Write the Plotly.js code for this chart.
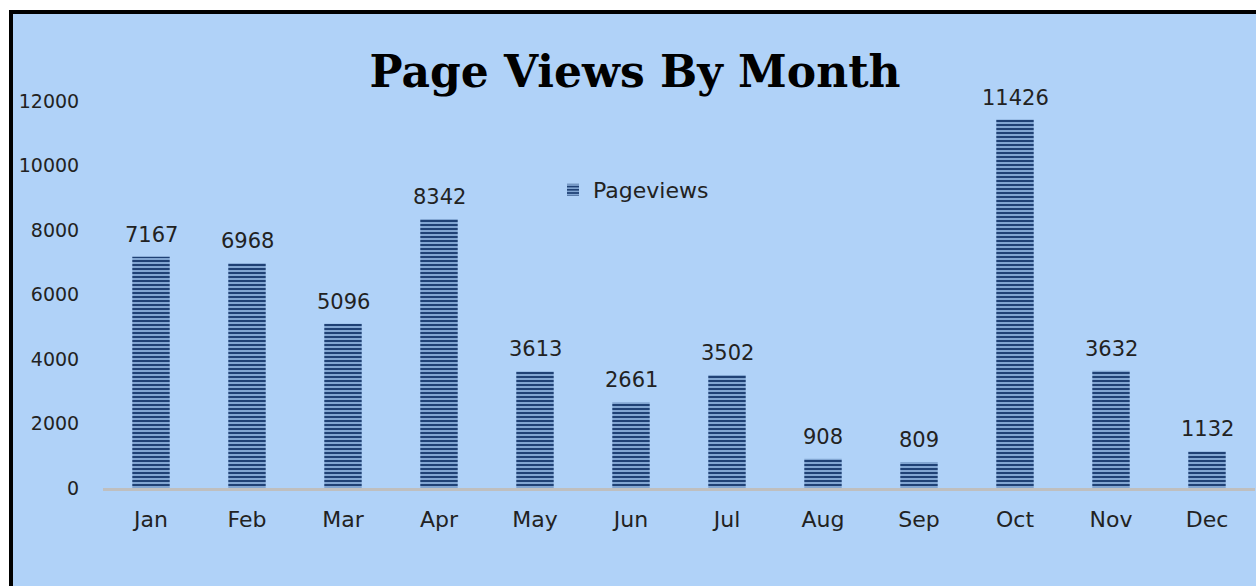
<!DOCTYPE html>
<html>
<head>
<meta charset="utf-8">
<script src="https://cdn.plot.ly/plotly-3.0.1.min.js"></script>
<style>
  html, body { margin:0; padding:0; background:#ffffff; width:1256px; height:586px; overflow:hidden; }
  #frame { position:absolute; left:9px; top:10px; width:1247px; height:576px; box-sizing:border-box;
           border-left:4px solid #000; border-top:4px solid #000; background:#B0D2F8; }
  #chart { width:1243px; height:572px; }
</style>
</head>
<body>
<div id="frame"><div id="chart"></div></div>
<script>
const months = ["Jan","Feb","Mar","Apr","May","Jun","Jul","Aug","Sep","Oct","Nov","Dec"];
const pageviews = [7167, 6968, 5096, 8342, 3613, 2661, 3502, 908, 809, 11426, 3632, 1132];
const seriesName = "Pageviews";
const chartTitle = "Page Views By Month";

const bgColor = "#B0D2F8";
const fam = "DejaVu Sans";
const txtColor = "#222222";

const trace = {
  type: "bar",
  x: months,
  y: pageviews,
  name: seriesName,
  marker: {
    color: "#1F4175",
    line: {width: 0},
    pattern: {shape: "-", fgcolor: "#9CC0EA", bgcolor: "#1F4175", size: 4, solidity: 0.4}
  },
  showlegend: true
};

const annotations = months.map((m, i) => ({
  x: m, y: pageviews[i], xref: "x", yref: "y",
  text: String(pageviews[i]), showarrow: false,
  yanchor: "bottom", yshift: 8, font: {family: fam, size: 21, color: txtColor}
}));

const layout = {
  width: 1243, height: 572,
  paper_bgcolor: bgColor, plot_bgcolor: bgColor,
  margin: {l: 90, r: 1, t: 87, b: 98},
  title: {
    text: "<b>" + chartTitle + "</b>",
    font: {family: "DejaVu Serif", size: 44, color: "#000"},
    x: (635 - 13) / 1243, xref: "container", xanchor: "center",
    y: 1 - (72 - 14) / 572, yref: "container", yanchor: "middle"
  },
  bargap: 0.61,
  xaxis: {
    type: "category",
    showline: true, linecolor: "#BFBFBF", linewidth: 3,
    ticks: "outside", ticklen: 10, tickcolor: "rgba(0,0,0,0)",
    showgrid: false, zeroline: false,
    tickfont: {family: fam, size: 22, color: txtColor}
  },
  yaxis: {
    range: [0, 12000], dtick: 2000, tick0: 0, tickformat: "d",
    showgrid: false, zeroline: false, showline: false,
    ticks: "outside", ticklen: 19, tickcolor: "rgba(0,0,0,0)",
    tickfont: {family: fam, size: 19, color: txtColor}
  },
  legend: {
    x: (553 - 103) / 1152, y: (488 - 190) / 387,
    xanchor: "left", yanchor: "middle",
    bgcolor: "rgba(0,0,0,0)", font: {family: fam, size: 22, color: txtColor},
    itemwidth: 30
  },
  annotations: annotations
};

Plotly.newPlot("chart", [trace], layout, {displayModeBar: false});
</script>
</body>
</html>
